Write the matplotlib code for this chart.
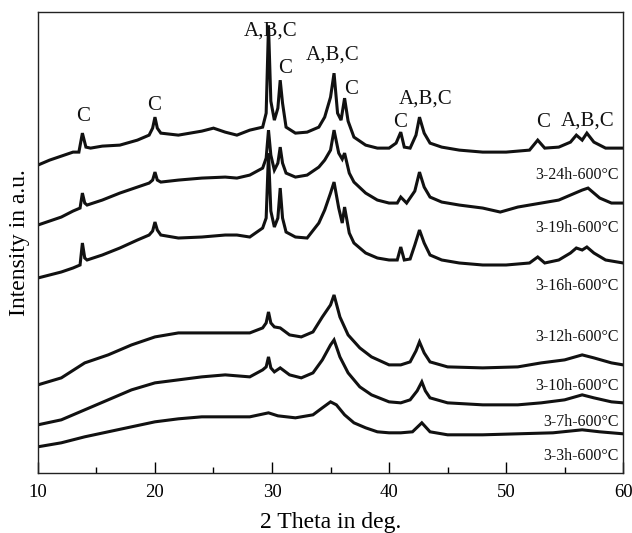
import matplotlib
matplotlib.use("Agg")
import matplotlib.pyplot as plt
from matplotlib.ticker import MultipleLocator

plt.rcParams['font.family'] = ['Liberation Serif', 'DejaVu Serif']

# ---- data (2-theta in deg, intensity in a.u., offset as drawn) ----
x_24h = [10, 11, 12, 13, 13.5, 13.8, 14.1, 14.5, 15.5, 17, 18.5, 19.5, 19.8, 20.0, 20.2, 20.5, 22, 24, 25, 26, 27,
         28.1, 29.2, 29.5, 29.7, 29.9, 30.2, 30.5, 30.7, 30.9, 31.2, 32, 33, 34, 34.5, 35, 35.3, 35.6, 35.9, 36.2,
         36.5, 37, 38, 39, 40, 40.6, 41.0, 41.3, 41.8, 42.3, 42.6, 43.0, 43.5, 44.5, 46, 48, 50, 52, 52.7, 53.3,
         54.5, 55.5, 56, 56.5, 56.9, 57.5, 58.5, 60]
y_24h = [308, 313, 317, 321, 321, 340, 326, 325, 327, 328, 333, 338, 345, 356, 345, 340, 338, 342, 345, 341, 338,
         343, 346, 360, 448, 372, 353, 365, 393, 370, 346, 340, 341, 346, 356, 376, 400, 360, 353, 375,
         352, 336, 328, 325, 325, 330, 341, 326, 325, 338, 356, 340, 330, 326, 323, 321, 321, 323, 333, 325,
         326, 331, 338, 333, 340, 331, 325, 325]

x_19h = [10, 11, 12, 13, 13.6, 13.8, 14.0, 14.2, 15.5, 17, 18.5, 19.5, 19.8, 20, 20.2, 20.5, 22, 24, 26, 27,
         28.1, 29.2, 29.5, 29.7, 29.9, 30.2, 30.5, 30.7, 30.9, 31.2, 32, 33, 34, 34.5, 35, 35.3, 35.7, 36.0, 36.2,
         36.6, 37, 38, 39, 40, 40.7, 41, 41.5, 42.2, 42.6, 43, 43.5, 44.5, 46, 48, 49.5, 51, 53, 54.5, 55.5,
         56.5, 57, 58, 59, 60]
y_19h = [248, 252, 256, 262, 265, 280, 270, 268, 273, 280, 286, 290, 293, 301, 293, 291, 293, 295, 296, 295,
         298, 305, 315, 343, 318, 303, 310, 326, 310, 300, 296, 298, 306, 313, 323, 343, 320, 314, 320,
         300, 291, 280, 273, 270, 270, 276, 270, 282, 301, 286, 276, 271, 268, 265, 261, 266, 270, 273, 278,
         283, 285, 275, 270, 270]

x_16h = [10, 11, 12, 13, 13.6, 13.8, 14.0, 14.2, 15.5, 17, 18.5, 19.5, 19.8, 20, 20.2, 20.5, 22, 24, 26, 27,
         28.1, 29.2, 29.5, 29.7, 29.9, 30.2, 30.5, 30.7, 30.9, 31.2, 32, 33, 34, 34.5, 35, 35.3, 35.7, 36.0, 36.2,
         36.6, 37, 38, 39, 40, 40.7, 41, 41.3, 41.8, 42.2, 42.6, 43, 43.5, 44.5, 46, 48, 50, 52, 52.7, 53.3,
         54.5, 55.5, 56, 56.5, 56.9, 57.5, 58.5, 60]
y_16h = [195, 198, 201, 205, 208, 230, 215, 213, 218, 225, 233, 238, 242, 251, 243, 238, 235, 236, 238, 238,
         236, 245, 255, 320, 262, 246, 255, 285, 255, 241, 236, 235, 250, 263, 280, 291, 265, 250, 266,
         240, 230, 220, 215, 213, 213, 226, 213, 214, 228, 243, 230, 218, 213, 210, 208, 208, 210, 216, 210,
         213, 220, 225, 223, 226, 220, 213, 210]

x_10h = [10, 12, 14, 16, 18, 20, 22, 24, 26, 28.1, 29.2, 29.5, 29.7, 29.9, 30.2, 30.7, 31.5, 32.5, 33.5, 34.3,
         35, 35.3, 35.8, 36.5, 37.5, 38.5, 40, 41, 41.8, 42.3, 42.6, 43, 43.5, 45, 48, 51, 53, 55, 56.5, 57.5,
         59, 60]
y_10h = [88, 95, 110, 118, 128, 136, 140, 140, 140, 140, 145, 150, 161, 150, 146, 145, 138, 136, 141, 156,
         168, 178, 156, 138, 125, 116, 108, 108, 111, 122, 131, 120, 111, 106, 105, 106, 110, 113, 118, 115,
         110, 108]

x_7h = [10, 12, 14, 16, 18, 20, 22, 24, 26, 28.1, 29.2, 29.5, 29.7, 29.9, 30.2, 30.7, 31.5, 32.5, 33.5, 34.3,
        35, 35.3, 35.8, 36.5, 37.5, 38.5, 40, 41, 41.8, 42.4, 42.8, 43.1, 43.5, 45, 48, 51, 53, 55, 56.5, 57.5,
        59, 60]
y_7h = [48, 53, 63, 73, 83, 90, 93, 96, 98, 96, 103, 106, 116, 105, 101, 105, 98, 95, 100, 113,
        128, 133, 116, 100, 86, 78, 71, 70, 73, 82, 91, 82, 75, 70, 68, 68, 70, 73, 78, 75,
        71, 70]

x_3h = [10, 12, 14, 16, 18, 20, 22, 24, 26, 28.1, 29.7, 30.5, 32, 33.5, 34.3, 35, 35.5, 36.2, 37, 38, 39, 40,
        41, 42, 42.8, 43.5, 45, 48, 51, 54, 56.5, 58, 60]
y_3h = [26, 30, 36, 41, 46, 51, 54, 56, 56, 56, 60, 57, 55, 58, 65, 71, 68, 58, 50, 45, 41, 40,
        40, 41, 50, 41, 38, 38, 39, 40, 43, 41, 39]

series = [(x_24h, y_24h), (x_19h, y_19h), (x_16h, y_16h), (x_10h, y_10h), (x_7h, y_7h), (x_3h, y_3h)]

curve_labels = ['3-24h-600°C', '3-19h-600°C', '3-16h-600°C', '3-12h-600°C',
                '3-10h-600°C', '3-7h-600°C', '3-3h-600°C']
curve_label_y = [298, 245, 187, 136, 87, 51, 17]

peak_labels = ['C', 'C', 'A,B,C', 'C', 'A,B,C', 'C', 'C', 'A,B,C', 'C', 'A,B,C']
peak_label_x = [13.85, 19.9, 29.9, 31.1, 35.2, 36.75, 40.95, 43.16, 53.2, 57.0]
peak_label_y = [357, 368, 442, 405, 418, 384, 351, 374, 351, 352]

# ---- figure ----
fig = plt.figure(figsize=(6.32, 5.33), dpi=100)
ax = fig.add_axes([0.060, 0.113, 0.926, 0.864])

for xs, ys in series:
    ax.plot(xs, ys, color='#111111', lw=2.2, solid_joinstyle='miter')

for lab, yy in zip(curve_labels, curve_label_y):
    ax.text(59.6, yy, lab, ha='right', va='center', fontsize=11.5, color='#111111')

for lab, xx, yy in zip(peak_labels, peak_label_x, peak_label_y):
    ax.text(xx, yy, lab, ha='center', va='center', fontsize=15, color='#111111')

ax.set_xlim(10, 60)
ax.set_ylim(0, 461)
ax.set_yticks([])
ax.xaxis.set_major_locator(MultipleLocator(10))
ax.xaxis.set_minor_locator(MultipleLocator(5))
ax.tick_params(axis='x', which='major', direction='in', length=8, width=1, labelsize=13.5, pad=8)
ax.tick_params(axis='x', which='minor', direction='in', length=4.3, width=1)
ax.tick_params(axis='x', top=False, which='both')
for s in ax.spines.values():
    s.set_linewidth(1.0)
    s.set_color('#222222')

ax.set_xlabel('2 Theta in deg.', fontsize=17, labelpad=8)
ax.set_ylabel('Intensity in a.u.', fontsize=17, labelpad=6)

fig.savefig('out.png', dpi=100)
